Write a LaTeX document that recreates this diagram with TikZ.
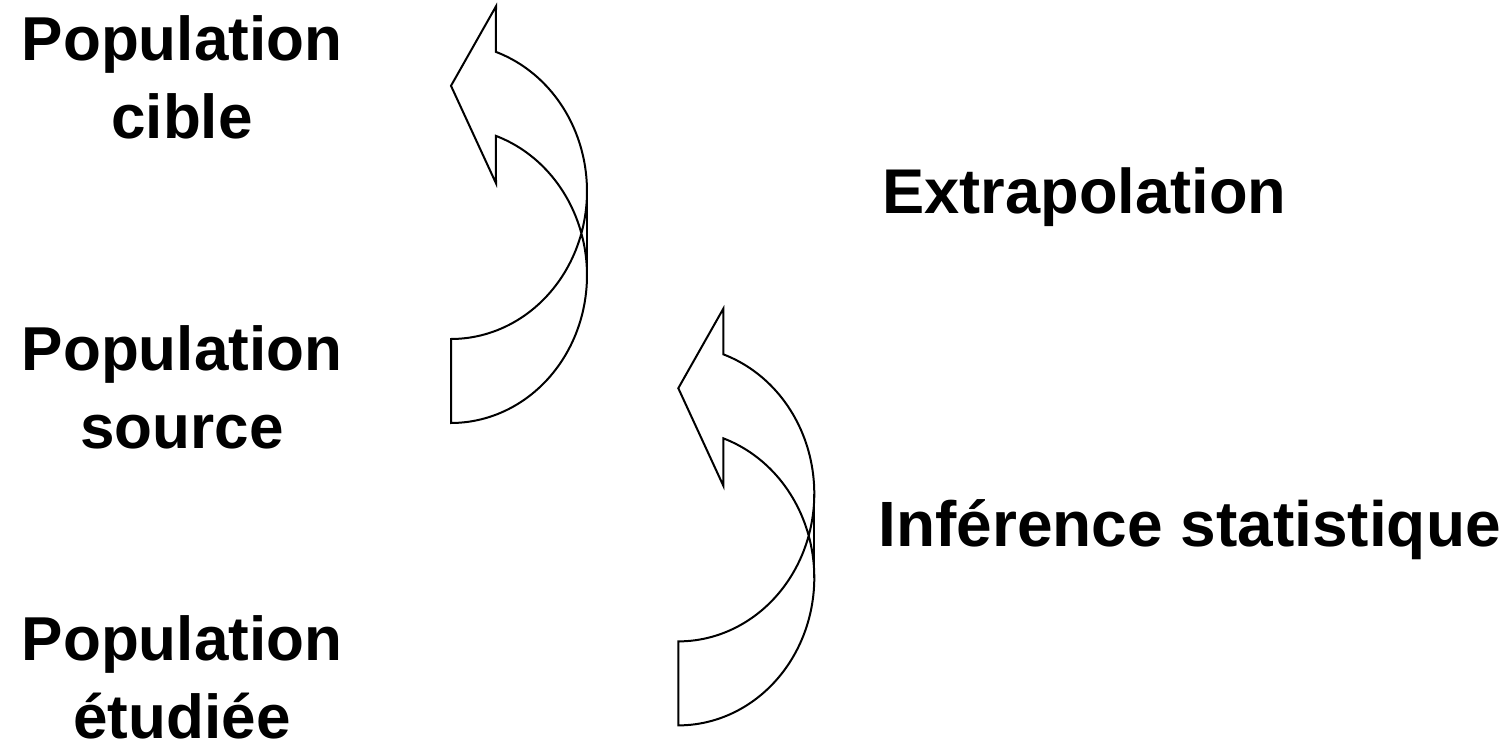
\documentclass[tikz,border=0pt]{standalone}
\usepackage{fontspec}
\setmainfont{Liberation Sans}
\begin{document}
\begin{tikzpicture}[x=0.5pt,y=-0.5pt,
  arrowline/.style={draw=black,line width=1pt,line join=miter},
  label/.style={font=\bfseries\fontsize{31}{39}\selectfont,inner sep=0pt,align=center},
  carrow/.pic={
    \draw[arrowline] plot[domain=90:-70.7,samples=90] ({136*cos(\x)},{147.7*sin(\x)})
      -- (45,-185) -- (0,-105.5) -- (45,-8) --
      plot[domain=-70.7:90,samples=90] ({136*cos(\x)},{84+147.7*sin(\x)}) -- cycle;
    \draw[arrowline] (136,0) -- (136,84);
  }]
\useasboundingbox (0,0) rectangle (1512,744);
\node[label,anchor=base] (cible) at (182,138) {Population\\cible};
\node[label,anchor=base] (source) at (182,448) {Population\\source};
\node[label,anchor=base] (etudiee) at (182,738) {Population\\étudiée};
\node[label,font=\bfseries\fontsize{31.6}{39}\selectfont,anchor=base west] (extra) at (882,213) {Extrapolation};
\node[label,font=\bfseries\fontsize{32}{39}\selectfont,anchor=base west] (infer) at (878,546) {Inférence statistique};
\pic (a1) at (451,191.3) {carrow};
\pic (a2) at (678.3,493.7) {carrow};
\end{tikzpicture}
\end{document}
